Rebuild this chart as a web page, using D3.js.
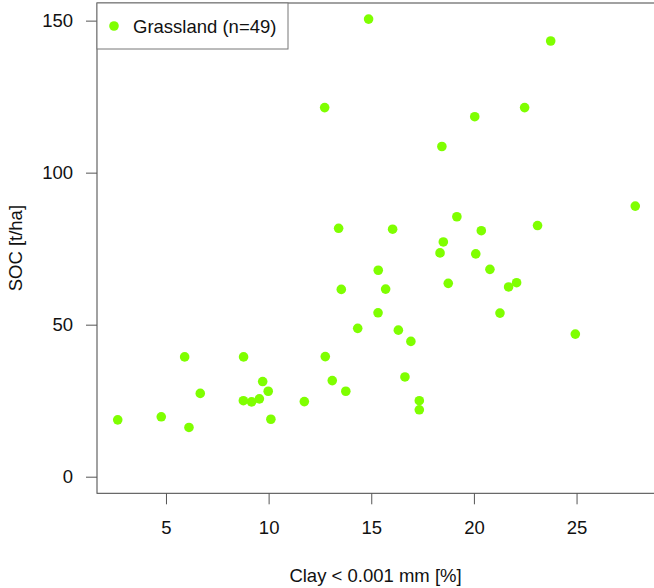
<!DOCTYPE html>
<html>
<head>
<meta charset="utf-8">
<script src="https://cdn.jsdelivr.net/npm/d3@7"></script>
<style>
  body { margin: 0; background: #fff; }
  text { font-family: "Liberation Sans", Arial, Helvetica, sans-serif; fill: #111; }
</style>
</head>
<body>
<div id="plot"></div>
<script>
// clay content (%) and SOC (t/ha)
const clay = [2.65, 4.77, 5.91, 6.12, 6.67, 8.78, 8.77, 9.17, 9.55, 9.71,
  9.98, 10.11, 11.74, 12.76, 13.10, 13.76, 14.34, 13.41, 13.54, 12.73,
  14.87, 15.33, 15.34, 15.70, 16.04, 16.32, 16.64, 16.93, 17.34, 17.34,
  18.35, 18.44, 18.51, 18.75, 19.17, 20.04, 20.09, 20.36, 20.78, 21.27,
  21.69, 22.08, 22.47, 23.10, 23.74, 24.94, 27.86];
const soc = [18.7, 19.7, 39.4, 16.2, 27.4, 39.4, 25.0, 24.6, 25.6, 31.3,
  28.1, 18.9, 24.7, 39.5, 31.6, 28.1, 48.8, 81.7, 61.6, 121.4,
  150.5, 53.9, 67.9, 61.7, 81.4, 48.2, 32.8, 44.5, 25.0, 22.0,
  73.6, 108.6, 77.2, 63.6, 85.5, 118.4, 73.3, 80.9, 68.2, 53.8,
  62.4, 63.8, 121.4, 82.6, 143.3, 46.9, 89.0];
const xTicks = [5, 10, 15, 20, 25];
const yTicks = [0, 50, 100, 150];
const legendLabel = "Grassland (n=49)";

const width = 654, height = 588;
const box = { left: 97, right: 656, top: 3, bottom: 493.3 };
const ptColor = "#7fff00";
const fs = "18.5px";

const svg = d3.select("#plot").append("svg")
  .attr("width", width)
  .attr("height", height);

const x = d3.scaleLinear().domain([1.64, 28.87]).range([box.left, box.right]);
const y = d3.scaleLinear().domain([-5.46, 155.8]).range([box.bottom, box.top]);

// frame
svg.append("rect")
  .attr("x", box.left).attr("y", box.top)
  .attr("width", box.right - box.left).attr("height", box.bottom - box.top)
  .attr("fill", "none").attr("stroke", "#444").attr("stroke-width", 1);

// x axis
const xAxis = svg.append("g")
  .attr("transform", `translate(0,${box.bottom})`)
  .call(d3.axisBottom(x).tickValues(xTicks).tickSize(11).tickPadding(17));
xAxis.select(".domain").remove();
xAxis.selectAll("line").attr("stroke", "#555");
xAxis.selectAll("text").style("font-size", fs).attr("fill", "#111");

// y axis
const yAxis = svg.append("g")
  .attr("transform", `translate(${box.left},0)`)
  .call(d3.axisLeft(y).tickValues(yTicks).tickSize(11).tickPadding(13));
yAxis.select(".domain").remove();
yAxis.selectAll("line").attr("stroke", "#555");
yAxis.selectAll("text").style("font-size", fs).attr("fill", "#111");

// axis titles
svg.append("text")
  .attr("x", 375.5).attr("y", 582)
  .attr("text-anchor", "middle")
  .style("font-size", fs)
  .text("Clay < 0.001 mm [%]");

svg.append("text")
  .attr("transform", `translate(22,${(box.top + box.bottom) / 2}) rotate(-90)`)
  .attr("text-anchor", "middle")
  .style("font-size", fs)
  .text("SOC [t/ha]");

// points
svg.append("g").selectAll("circle")
  .data(d3.zip(clay, soc))
  .join("circle")
  .attr("cx", d => x(d[0]))
  .attr("cy", d => y(d[1]))
  .attr("r", 4.8)
  .attr("fill", ptColor);

// legend
const lg = svg.append("g");
lg.append("rect")
  .attr("x", box.left).attr("y", box.top)
  .attr("width", 191).attr("height", 46)
  .attr("fill", "#fff").attr("stroke", "#777");
lg.append("circle")
  .attr("cx", 114).attr("cy", 26).attr("r", 4.8).attr("fill", ptColor);
lg.append("text")
  .attr("x", 133).attr("y", 32.5)
  .style("font-size", fs)
  .text(legendLabel);
</script>
</body>
</html>
